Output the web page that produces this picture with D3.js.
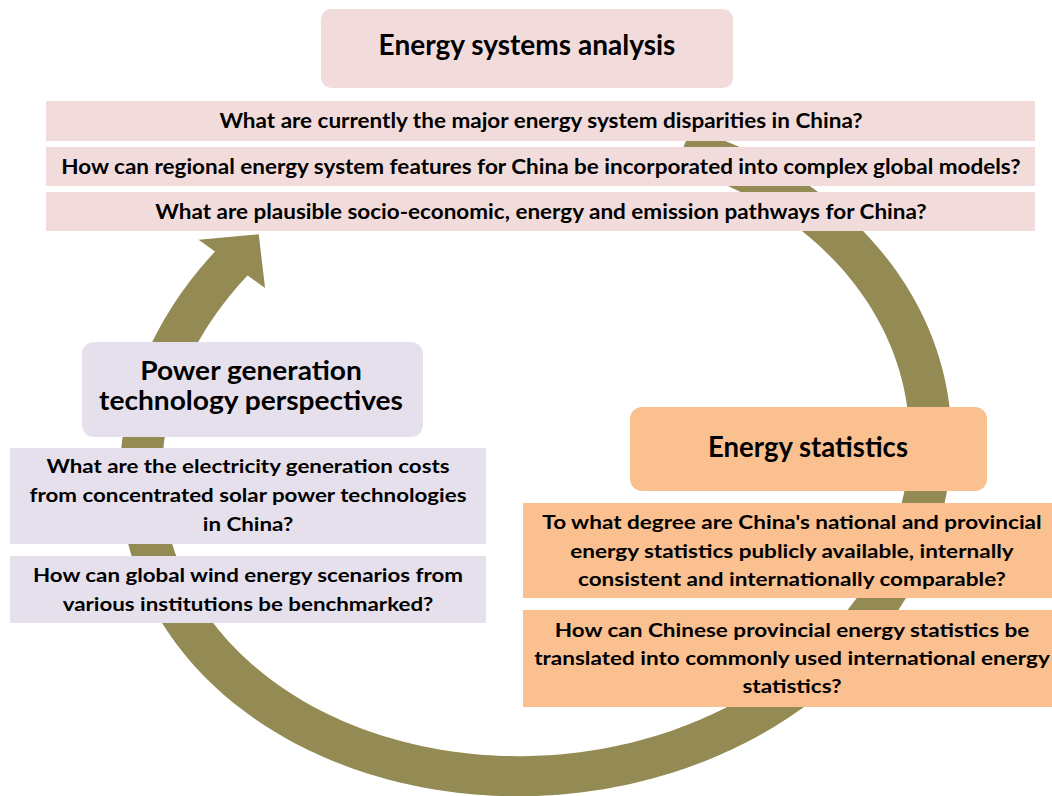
<!DOCTYPE html>
<html><head><meta charset="utf-8">
<script src="https://cdn.jsdelivr.net/npm/d3@7"></script>
<style>html,body{margin:0;padding:0;background:#fff;} svg{display:block;}</style>
</head><body><svg id="chart" width="1052" height="796"></svg>
<script>
// ---- content ----
const systemsTitle = ["Energy systems analysis"];
const powerTitle = ["Power generation", "technology perspectives"];
const statsTitle = ["Energy statistics"];
const systemsQuestions = [
  "What are currently the major energy system disparities in China?",
  "How can regional energy system features for China be incorporated into complex global models?",
  "What are plausible socio-economic, energy and emission pathways for China?"
];
const powerQuestions = [
  ["What are the electricity generation costs", "from concentrated solar power technologies", "in China?"],
  ["How can global wind energy scenarios from", "various institutions be benchmarked?"]
];
const statsQuestions = [
  ["To what degree are China's national and provincial", "energy statistics publicly available, internally", "consistent and internationally comparable?"],
  ["How can Chinese provincial energy statistics be", "translated into commonly used international energy", "statistics?"]
];

// ---- style / layout ----
const COL = {pink: "#f2dcdb", lilac: "#e6e0ec", orange: "#fac090", olive: "#948a54", text: "#000"};
const FONT = "Lato, 'Open Sans', sans-serif";
const CAP = 0.7165;
const W = 1052, H = 796;

const svg = d3.select("#chart");
svg.append("rect").attr("width", W).attr("height", H).attr("fill", "#fff");

// ---- circular arrow ----
const ring = {cx: 536, cy: 452, rxO: 416, ryO: 343, rxI: 374, ryI: 303, tilt: -5, start: -64, end: 222.4};
const rad = d => d * Math.PI / 180;
function bump(t, c) {
  const d = t - c;
  return Math.abs(d) < 90 ? Math.pow(Math.cos(rad(d)), 4) : 0;
}
function pt(t, rx, ry) {
  const k = 1 + 0.015 * bump(t, 150) - 0.016 * bump(t, 222);
  const tr = rad(t), f = rad(ring.tilt);
  const u = k * rx * Math.cos(tr), v = k * ry * Math.sin(tr);
  return [ring.cx + u * Math.cos(f) - v * Math.sin(f), ring.cy + u * Math.sin(f) + v * Math.cos(f)];
}
const ts = d3.range(ring.start, ring.end, 1).concat([ring.end]);
const outer = ts.map(t => pt(t, ring.rxO, ring.ryO));
const inner = ts.map(t => pt(t, ring.rxI, ring.ryI)).reverse();
const O = pt(ring.end, ring.rxO, ring.ryO), I = pt(ring.end, ring.rxI, ring.ryI);
const M = [(O[0] + I[0]) / 2, (O[1] + I[1]) / 2];
const Mn = pt(ring.end + 0.5, (ring.rxO + ring.rxI) / 2, (ring.ryO + ring.ryI) / 2);
const Mp = pt(ring.end - 0.5, (ring.rxO + ring.rxI) / 2, (ring.ryO + ring.ryI) / 2);
let T = [Mn[0] - Mp[0], Mn[1] - Mp[1]];
const tl = Math.hypot(T[0], T[1]); T = [T[0] / tl, T[1] / tl];
const Wo = [O[0] + 0.5 * (O[0] - I[0]), O[1] + 0.5 * (O[1] - I[1])];
const Wi = [I[0] + 0.53 * (I[0] - O[0]), I[1] + 0.53 * (I[1] - O[1])];
const tip = [M[0] + 40 * T[0], M[1] + 40 * T[1]];
const arrowPts = outer.concat([Wo, tip, Wi]).concat(inner);
svg.append("path")
  .attr("d", d3.line().curve(d3.curveLinear)(arrowPts) + "Z")
  .attr("fill", COL.olive);

// ---- boxes ----
const boxes = [
  {x: 321, y: 9, w: 412, h: 79, r: 10, fill: COL.pink},
  {x: 46, y: 101, w: 989, h: 40, r: 0, fill: COL.pink},
  {x: 46, y: 147, w: 989, h: 39, r: 0, fill: COL.pink},
  {x: 46, y: 192, w: 989, h: 39, r: 0, fill: COL.pink},
  {x: 82, y: 342, w: 341, h: 95, r: 12, fill: COL.lilac},
  {x: 10, y: 448, w: 476, h: 96, r: 0, fill: COL.lilac},
  {x: 10, y: 556, w: 476, h: 67, r: 0, fill: COL.lilac},
  {x: 630, y: 407, w: 357, h: 84, r: 12, fill: COL.orange},
  {x: 523, y: 503, w: 538, h: 95, r: 0, fill: COL.orange},
  {x: 523, y: 610, w: 538, h: 97, r: 0, fill: COL.orange}
];
svg.append("g").selectAll("rect").data(boxes).join("rect")
  .attr("x", d => d.x).attr("y", d => d.y).attr("width", d => d.w).attr("height", d => d.h)
  .attr("rx", d => d.r).attr("fill", d => d.fill);

// ---- text ----
const meas = svg.append("text").attr("font-family", FONT).attr("font-weight", 700)
  .attr("font-size", 20).attr("x", -2000).attr("y", -2000);
function fitSize(str, width) {
  meas.text(str);
  return 20 * width / meas.node().getComputedTextLength();
}
const groups = [
  {ref: systemsTitle[0], width: 297, cap: 20, items: [{lines: systemsTitle, cx: 527, y: 55, lh: 30}]},
  {ref: systemsQuestions[1], width: 960, cap: 14.5, items: systemsQuestions.map((q, i) => ({lines: [q], cx: 541, y: 128 + i * 45.5, lh: 0}))},
  {ref: powerTitle[1], width: 304, cap: 19, items: [{lines: powerTitle, cx: 251, y: 380, lh: 30}]},
  {ref: powerQuestions[0][1], width: 437, cap: 14, items: [
    {lines: powerQuestions[0], cx: 248, y: 473, lh: 29},
    {lines: powerQuestions[1], cx: 248, y: 582, lh: 28.5}]},
  {ref: statsTitle[0], width: 200, cap: 20, items: [{lines: statsTitle, cx: 808, y: 457, lh: 30}]},
  {ref: statsQuestions[1][1], width: 516, cap: 14, items: [
    {lines: statsQuestions[0], cx: 792, y: 529, lh: 28.5},
    {lines: statsQuestions[1], cx: 792, y: 637, lh: 28}]}
];
const tg = svg.append("g");
groups.forEach(g => {
  const size = fitSize(g.ref, g.width);
  const sy = g.cap / (size * CAP);
  g.items.forEach(it => {
    it.lines.forEach((line, k) => {
      tg.append("text")
        .attr("transform", `translate(${it.cx},${it.y + k * it.lh}) scale(1,${sy})`)
        .attr("text-anchor", "middle")
        .attr("font-family", FONT).attr("font-weight", 700).attr("font-size", size)
        .attr("fill", COL.text)
        .text(line);
    });
  });
});
meas.remove();
</script></body></html>
